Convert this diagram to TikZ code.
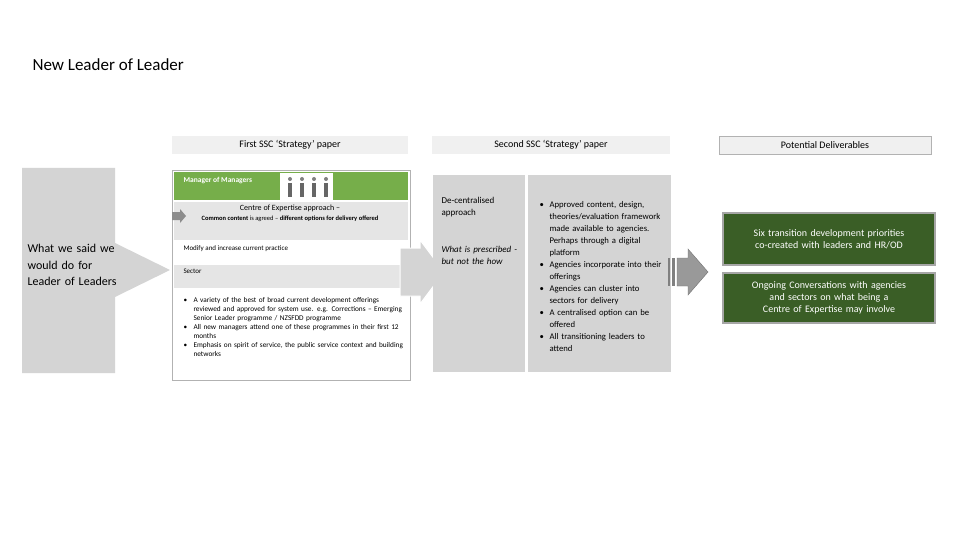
\documentclass[tikz,border=0pt]{standalone}
\usepackage{fontspec}
\setmainfont{Carlito}
\definecolor{dgreen}{HTML}{3A5E26}
\definecolor{lgreen}{HTML}{76AE4A}
\lefthyphenmin=62
\newcommand{\bitem}[1]{\par\hangindent=10pt\hangafter=1\noindent\makebox[10pt][l]{\textbullet}#1\par}
\begin{document}
\begin{tikzpicture}[x=1pt,y=-1pt,
  hdr/.style={fill=black!6,draw=none,minimum width=#1,minimum height=18pt,font=\fontsize{10}{12}\selectfont},
  greenbox/.style={fill=dgreen,draw=black!35,line width=1.2pt,text=white,align=center,font=\fontsize{10}{12}\selectfont,text width=196pt,minimum width=212pt},
  gray/.style={fill=black!17,draw=none},
  sm/.style={font=\fontsize{7}{8.5}\selectfont,anchor=north west,align=left}]
\useasboundingbox[fill=white] (0,0) rectangle (960,540);
\node[anchor=west,font=\fontsize{17}{20}\selectfont] (title) at (29,65) {New Leader of Leader};
% headers
\node[hdr=236pt] (h1) at (290,145) {First SSC `Strategy' paper};
\node[hdr=238pt] (h2) at (551,145) {Second SSC `Strategy' paper};
\node[hdr=212pt,draw=black!30] (h3) at (825,145) {Potential Deliverables};
% left big arrow
\draw[gray] (22,168) -- (115,168) -- (115,243) -- (170,270) -- (115,297) -- (115,373) -- (22,373) -- cycle;
\node[anchor=north west,align=left,text width=90pt,font=\fontsize{12}{16.5}\selectfont] (said) at (24,241) {\raggedright What we said we would do for Leader of Leaders\par};
% first paper panel
\draw[black!30,fill=white] (172,170) rectangle (410,380);
\fill[lgreen] (174,172) rectangle (408,200);
\node[anchor=west,font=\fontsize{7.5}{9}\bfseries\selectfont,text=white] (mm) at (180,181) {Manager of Managers};
\fill[white] (280,173) rectangle (333,200);
\foreach \xx in {290,302,314,326}{\fill[black!50] (\xx,179) circle (2); \fill[black!60] (\xx-2,183) rectangle (\xx+2,197);}
\fill[black!10] (174,202) rectangle (408,240);
\node[font=\fontsize{8}{10}\selectfont] (coe) at (290,208) {Centre of Expertise approach --};
\node[font=\fontsize{6.5}{8}\selectfont] (cc) at (290,219) {\textbf{Common content} is agreed -- \textbf{different options for delivery offered}};
\fill[black!45] (172,212) -- (180,212) -- (180,209) -- (186,216) -- (180,223) -- (180,220) -- (172,220) -- cycle;
\node[sm] (mod) at (180,242) {Modify and increase current practice};
\fill[black!10] (174,265) rectangle (408,288);
\node[sm] (sec) at (180,265) {Sector};
\node[sm,text width=222pt,font=\fontsize{7.3}{9}\selectfont] (bul) at (180,290) {\raggedright\bitem{A variety of the best of broad current development offerings reviewed and approved for system use. e.g. Corrections -- Emerging Senior Leader programme / NZSFDD programme}
\bitem{All new managers attend one of these programmes in their first 12 months}
\bitem{Emphasis on spirit of service, the public service context and building networks}};
% middle arrow
\draw[gray,draw=white,line width=1pt] (400,248) -- (420,248) -- (420,240) -- (444,272) -- (420,304) -- (420,296) -- (400,296) -- cycle;
% second paper panels
\fill[black!17] (433,175) rectangle (525,372);
\fill[black!17] (528,175) rectangle (671,372);
\node[anchor=north west,align=left,text width=85pt,font=\fontsize{9}{12}\selectfont] (dec) at (438,194) {\raggedright De-centralised approach\par};
\node[anchor=north west,align=left,text width=85pt,font=\fontsize{9}{12}\itshape\selectfont] (wip) at (438,243) {\raggedright What is prescribed - but not the how\par};
\node[anchor=north west,align=left,text width=124pt,font=\fontsize{8.7}{12}\selectfont] (b2) at (536,192) {\raggedright
\bitem{Approved content, design, theories/evaluation framework made available to agencies.\ \ Perhaps through a digital platform}
\bitem{Agencies incorporate into their offerings}
\bitem{Agencies can cluster into sectors for delivery}
\bitem{A centralised option can be offered}
\bitem{All transitioning leaders to attend}};
% striped arrow
\fill[black!50] (668,258) rectangle (670,286);
\fill[black!50] (672,258) rectangle (675,286);
\draw[fill=black!40,draw=black!55] (677,258) -- (688,258) -- (688,249) -- (708,272) -- (688,295) -- (688,286) -- (677,286) -- cycle;
% deliverables
\node[greenbox,minimum height=52pt] (d1) at (829,239) {Six transition development priorities co-created with leaders and HR/OD};
\node[greenbox,minimum height=50pt] (d2) at (829,298) {Ongoing Conversations with agencies and sectors on what being a Centre of Expertise may involve};
\end{tikzpicture}
\end{document}
